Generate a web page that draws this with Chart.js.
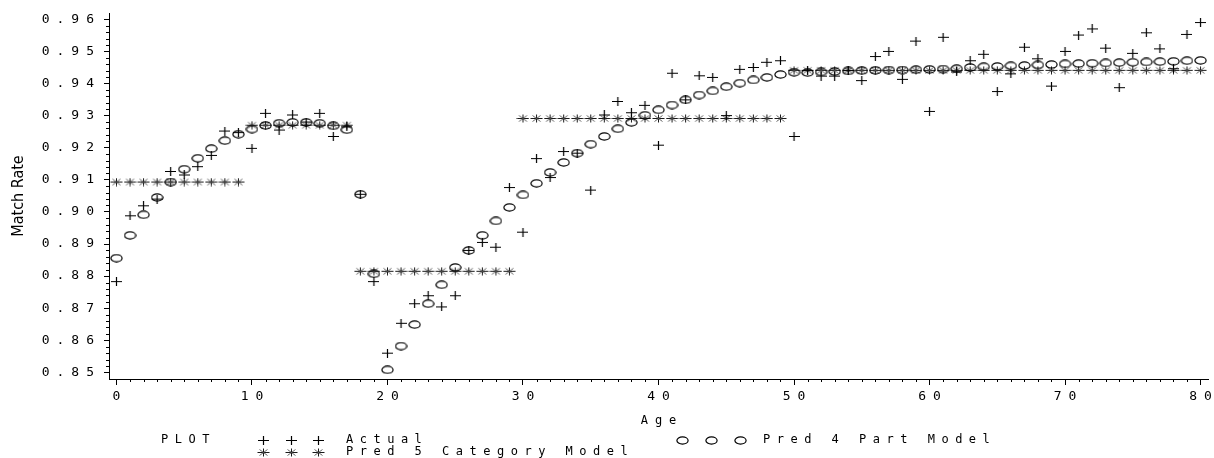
<!DOCTYPE html>
<html>
<head>
<meta charset="utf-8">
<script src="https://cdn.jsdelivr.net/npm/chart.js@4.4.1/dist/chart.umd.min.js"></script>
<style>
  html, body { margin: 0; padding: 0; background: #fff; overflow: hidden; }
  canvas { display: block; }
</style>
</head>
<body>
<canvas id="chart" width="1214" height="458"></canvas>
<script>
// Match rate by age: observed values and two model predictions.
const ages = [0,1,2,3,4,5,6,7,8,9,10,11,12,13,14,15,16,17,18,19,20,21,22,23,24,25,26,27,28,29,30,
  31,32,33,34,35,36,37,38,39,40,41,42,43,44,45,46,47,48,49,50,51,52,53,54,55,56,57,58,59,60,
  61,62,63,64,65,66,67,68,69,70,71,72,73,74,75,76,77,78,79,80];

const actualRate = [0.8783,0.8988,0.9019,0.9040,0.9126,0.9115,0.9141,0.9176,0.9252,0.9247,
  0.9198,0.9307,0.9255,0.9302,0.9280,0.9307,0.9235,0.9265,0.9055,0.8783,
  0.8560,0.8653,0.8714,0.8739,0.8704,0.8739,0.8880,0.8905,0.8890,0.9076,
  0.8937,0.9166,0.9107,0.9188,0.9183,0.9068,0.9302,0.9344,0.9309,0.9332,
  0.9208,0.9432,0.9349,0.9424,0.9419,0.9300,0.9444,0.9450,0.9466,0.9471,
  0.9235,0.9440,0.9423,0.9423,0.9440,0.9409,0.9484,0.9500,0.9413,0.9532,
  0.9313,0.9544,0.9436,0.9471,0.9491,0.9375,0.9430,0.9513,0.9477,0.9392,
  0.9500,0.9551,0.9570,0.9510,0.9387,0.9494,0.9558,0.9508,0.9446,0.9553,0.9590];

const pred4Part = [0.8856,0.8927,0.8991,0.9045,0.9093,0.9133,0.9167,0.9197,0.9222,0.9242,
  0.9258,0.9269,0.9276,0.9279,0.9279,0.9276,0.9268,0.9256,0.9055,0.8807,
  0.8508,0.8582,0.8649,0.8714,0.8773,0.8827,0.8880,0.8927,0.8972,0.9014,
  0.9053,0.9089,0.9123,0.9154,0.9183,0.9211,0.9235,0.9259,0.9279,0.9301,
  0.9318,0.9333,0.9349,0.9364,0.9377,0.9390,0.9401,0.9411,0.9419,0.9428,
  0.9435,0.9434,0.9436,0.9437,0.9439,0.9440,0.9441,0.9442,0.9442,0.9443,
  0.9444,0.9445,0.9446,0.9450,0.9452,0.9453,0.9455,0.9456,0.9458,0.9459,
  0.9461,0.9462,0.9463,0.9464,0.9465,0.9466,0.9467,0.9468,0.9469,0.9471,0.9472];

const pred5Category = [0.9093,0.9093,0.9093,0.9093,0.9093,0.9093,0.9093,0.9093,0.9093,0.9093,
  0.9270,0.9270,0.9270,0.9270,0.9270,0.9270,0.9270,0.9270,0.8815,0.8815,
  0.8815,0.8815,0.8815,0.8815,0.8815,0.8815,0.8815,0.8815,0.8815,0.8815,
  0.9291,0.9291,0.9291,0.9291,0.9291,0.9291,0.9291,0.9291,0.9291,0.9291,
  0.9291,0.9291,0.9291,0.9291,0.9291,0.9291,0.9291,0.9291,0.9291,0.9291,
  0.9441,0.9441,0.9441,0.9441,0.9441,0.9441,0.9441,0.9441,0.9441,0.9441,
  0.9441,0.9441,0.9441,0.9441,0.9441,0.9441,0.9441,0.9441,0.9441,0.9441,
  0.9441,0.9441,0.9441,0.9441,0.9441,0.9441,0.9441,0.9441,0.9441,0.9441,0.9441];

const yTickValues = [0.85,0.86,0.87,0.88,0.89,0.90,0.91,0.92,0.93,0.94,0.95,0.96];
const xTickValues = [0,10,20,30,40,50,60,70,80];
const seriesNames = ['Actual', 'Pred 4 Part Model', 'Pred 5 Category Model'];

// ---- marker glyphs (small offscreen canvases used as point styles) ----
function makeMark(w, h, paint) {
  const c = document.createElement('canvas');
  c.width = w; c.height = h;
  const g = c.getContext('2d');
  g.strokeStyle = '#000';
  g.lineWidth = 1.2;
  paint(g, w, h);
  return c;
}
const plusMark = makeMark(11, 9, (g) => {
  g.beginPath();
  g.moveTo(0, 4.5); g.lineTo(11, 4.5);
  g.moveTo(5.5, 0); g.lineTo(5.5, 9);
  g.stroke();
});
const ovalMark = makeMark(13, 9, (g) => {
  g.beginPath();
  g.ellipse(6.5, 4.5, 5.6, 3.6, 0, 0, Math.PI * 2);
  g.stroke();
});
const starMark = makeMark(13, 9, (g) => {
  g.strokeStyle = '#1a1a1a';
  g.lineWidth = 1;
  g.beginPath();
  g.moveTo(0.5, 4.5); g.lineTo(12.5, 4.5);
  g.moveTo(6.5, 0.5); g.lineTo(6.5, 8.5);
  g.stroke();
  g.strokeStyle = '#555';
  g.lineWidth = 0.9;
  g.beginPath();
  g.moveTo(2.5, 1.5); g.lineTo(10.5, 7.5);
  g.moveTo(2.5, 7.5); g.lineTo(10.5, 1.5);
  g.stroke();
});

// ---- linear scale whose labels and title can be letter-spaced ----
const SPACING = { x: { ticks: 7, title: 7 }, y: { ticks: 7, title: 0 } };
class SpacedLinearScale extends Chart.LinearScale {
  drawLabels(area) {
    const ctx = this.ctx;
    ctx.save();
    ctx.letterSpacing = SPACING[this.id].ticks + 'px';
    super.drawLabels(area);
    ctx.restore();
  }
  drawTitle() {
    const ctx = this.ctx;
    const s = SPACING[this.id].title;
    ctx.save();
    ctx.letterSpacing = s + 'px';
    if (this.isHorizontal()) ctx.translate(s / 2, 0);
    super.drawTitle();
    ctx.restore();
  }
}
SpacedLinearScale.id = 'spacedLinear';
SpacedLinearScale.defaults = Chart.LinearScale.defaults;
Chart.register(SpacedLinearScale);

// ---- minor tick marks along both axes ----
const minorTicks = {
  id: 'minorTicks',
  afterDraw(chart) {
    const { ctx } = chart;
    const xs = chart.scales.x, ys = chart.scales.y;
    ctx.save();
    ctx.strokeStyle = '#000';
    ctx.lineWidth = 1;
    ctx.beginPath();
    for (let k = 0; k <= 80; k++) {
      if (k % 10 === 0) continue;
      const px = Math.round(xs.getPixelForValue(k)) + 0.5;
      ctx.moveTo(px, xs.top);
      ctx.lineTo(px, xs.top + 3);
    }
    for (let k = 0; k <= 55; k++) {
      if (k % 5 === 0) continue;
      const py = Math.round(ys.getPixelForValue(0.85 + k * 0.002)) + 0.5;
      ctx.moveTo(ys.right - 3, py);
      ctx.lineTo(ys.right, py);
    }
    ctx.stroke();
    ctx.restore();
  }
};

// ---- key block under the axis ----
const keyBlock = {
  id: 'keyBlock',
  afterDraw(chart) {
    const ctx = chart.ctx;
    ctx.save();
    ctx.font = '12px "DejaVu Sans Mono", monospace';
    ctx.fillStyle = '#000';
    ctx.textBaseline = 'middle';
    ctx.letterSpacing = '6.5px';
    ctx.fillText('PLOT', 161, 440);
    const rows = [
      { mark: plusMark, at: [263, 291, 318], text: seriesNames[0], tx: 346, y: 440 },
      { mark: ovalMark, at: [682, 711, 740], text: seriesNames[1], tx: 763, y: 440 },
      { mark: starMark, at: [263, 291, 318], text: seriesNames[2], tx: 346, y: 452 }
    ];
    rows.forEach(r => {
      r.at.forEach(x => ctx.drawImage(r.mark, Math.round(x - r.mark.width / 2), Math.round(r.y - r.mark.height / 2)));
      ctx.fillText(r.text, r.tx, r.y);
    });
    ctx.restore();
  }
};

const toPoints = vals => ages.map((a, i) => ({ x: a, y: vals[i] }));
const monoFont = '"DejaVu Sans Mono", monospace';

new Chart(document.getElementById('chart'), {
  type: 'scatter',
  data: {
    datasets: [
      { label: seriesNames[0], data: toPoints(actualRate), pointStyle: plusMark, pointRadius: 5 },
      { label: seriesNames[1], data: toPoints(pred4Part), pointStyle: ovalMark, pointRadius: 5 },
      { label: seriesNames[2], data: toPoints(pred5Category), pointStyle: starMark, pointRadius: 5 }
    ]
  },
  options: {
    responsive: false,
    animation: false,
    devicePixelRatio: 1,
    layout: { padding: { top: 13, right: 6, left: 0, bottom: 0 } },
    plugins: { legend: { display: false }, tooltip: { enabled: false } },
    scales: {
      x: {
        type: 'spacedLinear',
        position: 'bottom',
        min: -0.55,
        max: 80.55,
        afterBuildTicks: s => { s.ticks = xTickValues.map(v => ({ value: v })); },
        afterFit: s => { s.height = 79; },
        ticks: {
          autoSkip: false, maxRotation: 0, color: '#000', padding: 4, labelOffset: 3.5,
          font: { family: monoFont, size: 13 },
          callback: v => String(v)
        },
        grid: { drawOnChartArea: false, tickLength: 6, tickColor: '#000', color: '#000' },
        border: { color: '#000', width: 1 },
        title: {
          display: true, text: 'Age', color: '#000',
          font: { family: monoFont, size: 12 },
          padding: { top: 0, bottom: 30 }
        }
      },
      y: {
        type: 'spacedLinear',
        position: 'left',
        min: 0.84795,
        max: 0.96196,
        afterBuildTicks: s => { s.ticks = yTickValues.map(v => ({ value: v })); },
        afterFit: s => { s.width = 109; },
        ticks: {
          color: '#000', padding: 3,
          font: { family: monoFont, size: 13 },
          callback: v => v.toFixed(2)
        },
        grid: { drawOnChartArea: false, tickLength: 5, tickColor: '#000', color: '#000' },
        border: { color: '#000', width: 1 },
        title: {
          display: true, text: 'Match Rate', color: '#000',
          font: { family: '"Liberation Sans Narrow", "DejaVu Sans Condensed", "Liberation Sans", sans-serif', size: 16 },
          padding: { top: 9, bottom: 0 }
        }
      }
    }
  },
  plugins: [minorTicks, keyBlock]
});
</script>
</body>
</html>
